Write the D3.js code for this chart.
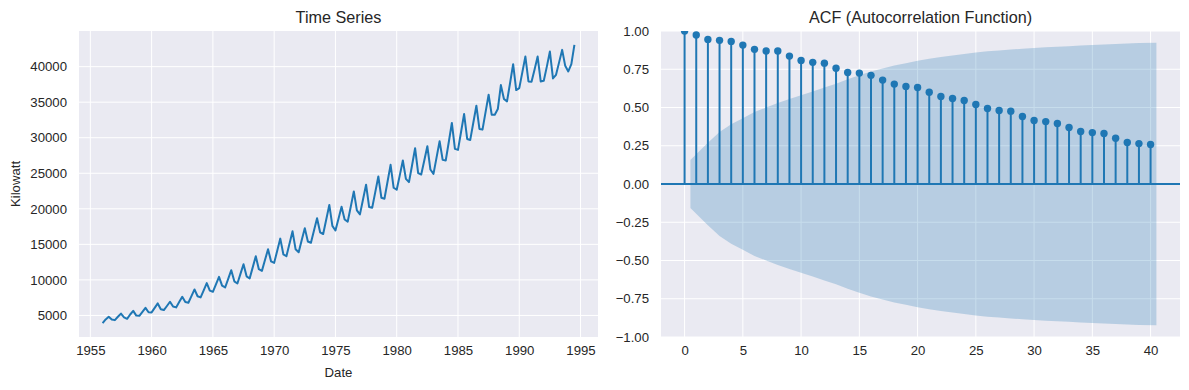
<!DOCTYPE html>
<html><head><meta charset="utf-8">
<script src="https://cdn.jsdelivr.net/npm/d3@7"></script>
<style>
body{margin:0;background:#fff}
svg{display:block}
text{font-family:"Liberation Sans",Arial,sans-serif;fill:#262626}
</style>
</head><body>
<svg id="c" width="1189" height="390"></svg>
<script>
// ---- data ----
const startYear = 1956; // quarterly series, first quarter 1956 Q1
const kilowatt = [
  3923, 4436, 4806, 4418,
  4339, 4811, 5259, 4735,
  4527, 5129, 5636, 4978,
  4950, 5500, 6067, 5450,
  5430, 6060, 6690, 5870,
  5760, 6330, 6925, 6250,
  6130, 6880, 7626, 6880,
  6785, 7720, 8655, 7700,
  7533, 8540, 9543, 8500,
  8327, 9380, 10431, 9200,
  8935, 10150, 11366, 9800,
  9496, 10850, 12207, 10500,
  10197, 11760, 13329, 11500,
  11272, 12790, 14311, 12600,
  12394, 14100, 15807, 13600,
  13329, 15080, 16835, 14300,
  13890, 15600, 17280, 15400,
  15220, 16950, 18680, 16700,
  16450, 18500, 20540, 17600,
  16950, 18600, 20300, 18500,
  18190, 20300, 22450, 19780,
  19220, 21300, 23400, 20247,
  20154, 22350, 24548, 21556,
  21416, 23800, 26184, 22959,
  22678, 24700, 26792, 24221,
  23753, 26100, 28521, 25015,
  24828, 26800, 28801, 25529,
  24922, 27200, 29502, 26885,
  26792, 29400, 32074, 28428,
  28288, 30800, 33336, 29830,
  29690, 32100, 34504, 31232,
  31139, 33600, 36047, 33242,
  33242, 34037, 37403, 35439,
  35112, 37700, 40348, 36702,
  36982, 39200, 41422, 37916,
  37870, 39600, 41422, 37916,
  38010, 40000, 42123, 38337,
  38851, 40600, 42357, 40113,
  39319, 40348, 43058
];
const yearTicks = [1955, 1960, 1965, 1970, 1975, 1980, 1985, 1990, 1995];
const kwTicks = [5000, 10000, 15000, 20000, 25000, 30000, 35000, 40000];

const acfLags = d3.range(0, 41);
const acfValues = [
  1.000, 0.974, 0.945, 0.939, 0.932, 0.908, 0.880, 0.869, 0.869, 0.836,
  0.808, 0.795, 0.790, 0.757, 0.729, 0.725, 0.710, 0.679, 0.653, 0.638,
  0.631, 0.600, 0.572, 0.559, 0.546, 0.520, 0.493, 0.480, 0.476, 0.441,
  0.415, 0.408, 0.395, 0.369, 0.343, 0.336, 0.330, 0.299, 0.271, 0.264,
  0.258
];
// confidence band half-width for lags 1..40
const confBand = [
  0.157, 0.270, 0.340, 0.390, 0.430, 0.470, 0.500, 0.530, 0.555, 0.580,
  0.605, 0.630, 0.655, 0.685, 0.710, 0.735, 0.755, 0.775, 0.790, 0.805,
  0.818, 0.830, 0.840, 0.850, 0.860, 0.867, 0.873, 0.879, 0.884, 0.889,
  0.893, 0.897, 0.901, 0.905, 0.908, 0.912, 0.915, 0.918, 0.921, 0.923
];
const lagTicks = [0, 5, 10, 15, 20, 25, 30, 35, 40];
const acfTicks = [-1, -0.75, -0.5, -0.25, 0, 0.25, 0.5, 0.75, 1];

// ---- drawing ----
const C0 = "#1f77b4";
const BG = "#eaeaf2";
const svg = d3.select("#c");
const PT = 31, PB = 337;

function panel(x0, x1, id) {
  const g = svg.append("g");
  g.append("rect").attr("x", x0).attr("y", PT).attr("width", x1 - x0).attr("height", PB - PT).attr("fill", BG);
  svg.append("clipPath").attr("id", id).append("rect")
    .attr("x", x0).attr("y", PT).attr("width", x1 - x0).attr("height", PB - PT);
  return g;
}
function pad(ext) { const r = ext[1] - ext[0]; return [ext[0] - 0.05 * r, ext[1] + 0.05 * r]; }
function styleAxis(a) {
  a.select(".domain").remove();
  a.selectAll("text").attr("font-size", 13.2).attr("fill", "#262626")
    .attr("font-family", "Liberation Sans, Arial, sans-serif");
}

// ---- Left: time series ----
{
  const L = 79, R = 598;
  const g = panel(L, R, "clipL");
  const dates = kilowatt.map((v, i) => startYear + i / 4);
  const x = d3.scaleLinear().domain(pad(d3.extent(dates))).range([L, R]);
  const y = d3.scaleLinear().domain(pad(d3.extent(kilowatt))).range([PB, PT]);

  g.selectAll(".gx").data(yearTicks).join("line")
    .attr("x1", d => x(d)).attr("x2", d => x(d)).attr("y1", PT).attr("y2", PB)
    .attr("stroke", "#fff").attr("stroke-width", 1);
  g.selectAll(".gy").data(kwTicks).join("line")
    .attr("x1", L).attr("x2", R).attr("y1", d => y(d)).attr("y2", d => y(d))
    .attr("stroke", "#fff").attr("stroke-width", 1);

  const line = d3.line().x((d, i) => x(dates[i])).y(d => y(d));
  g.append("path").datum(kilowatt).attr("d", line).attr("fill", "none")
    .attr("stroke", C0).attr("stroke-width", 2).attr("stroke-linejoin", "round")
    .attr("clip-path", "url(#clipL)");

  styleAxis(svg.append("g").attr("transform", `translate(0,${PB})`)
    .call(d3.axisBottom(x).tickValues(yearTicks).tickFormat(d3.format("d")).tickSize(0).tickPadding(9)));
  styleAxis(svg.append("g").attr("transform", `translate(${L},0)`)
    .call(d3.axisLeft(y).tickValues(kwTicks).tickFormat(d3.format("d")).tickSize(0).tickPadding(12)));

  svg.append("text").attr("x", (L + R) / 2).attr("y", 23).attr("text-anchor", "middle")
    .attr("font-size", 16.2).text("Time Series");
  svg.append("text").attr("x", (L + R) / 2).attr("y", 377).attr("text-anchor", "middle")
    .attr("font-size", 13.2).text("Date");
  svg.append("text").attr("transform", `translate(20,${(PT + PB) / 2}) rotate(-90)`)
    .attr("text-anchor", "middle").attr("font-size", 13.2).text("Kilowatt");
}

// ---- Right: ACF ----
{
  const L = 661, R = 1180;
  const g = panel(L, R, "clipR");
  const x = d3.scaleLinear().domain(pad([0, 40.5])).range([L, R]);
  const y = d3.scaleLinear().domain([-1, 1]).range([PB, PT]);

  g.selectAll(".gx").data(lagTicks).join("line")
    .attr("x1", d => x(d)).attr("x2", d => x(d)).attr("y1", PT).attr("y2", PB)
    .attr("stroke", "#fff").attr("stroke-width", 1);
  g.selectAll(".gy").data(acfTicks).join("line")
    .attr("x1", L).attr("x2", R).attr("y1", d => y(d)).attr("y2", d => y(d))
    .attr("stroke", "#fff").attr("stroke-width", 1);

  const bandLags = confBand.map((d, i) => i + 1);
  bandLags[0] -= 0.5; bandLags[bandLags.length - 1] += 0.5;
  const area = d3.area().x((d, i) => x(bandLags[i])).y0(d => y(-d)).y1(d => y(d));
  g.append("path").datum(confBand).attr("d", area).attr("fill", C0).attr("fill-opacity", 0.25)
    .attr("clip-path", "url(#clipR)");

  const cg = g.append("g").attr("clip-path", "url(#clipR)");
  cg.append("line").attr("x1", L).attr("x2", R).attr("y1", y(0)).attr("y2", y(0))
    .attr("stroke", C0).attr("stroke-width", 2);
  cg.selectAll(".stem").data(acfValues).join("line")
    .attr("x1", (d, i) => x(acfLags[i])).attr("x2", (d, i) => x(acfLags[i]))
    .attr("y1", y(0)).attr("y2", d => y(d)).attr("stroke", C0).attr("stroke-width", 2);
  cg.selectAll(".dot").data(acfValues).join("circle")
    .attr("cx", (d, i) => x(acfLags[i])).attr("cy", d => y(d)).attr("r", 3.7).attr("fill", C0);

  styleAxis(svg.append("g").attr("transform", `translate(0,${PB})`)
    .call(d3.axisBottom(x).tickValues(lagTicks).tickFormat(d3.format("d")).tickSize(0).tickPadding(9)));
  styleAxis(svg.append("g").attr("transform", `translate(${L},0)`)
    .call(d3.axisLeft(y).tickValues(acfTicks).tickFormat(d3.format(".2f")).tickSize(0).tickPadding(12)));

  svg.append("text").attr("x", (L + R) / 2).attr("y", 23).attr("text-anchor", "middle")
    .attr("font-size", 16.2).text("ACF (Autocorrelation Function)");
}
</script>
</body></html>
